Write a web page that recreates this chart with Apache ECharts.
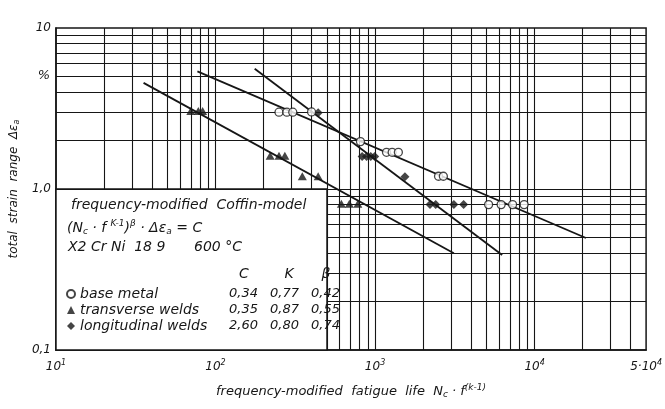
<!DOCTYPE html>
<html><head><meta charset="utf-8">
<script src="https://cdn.jsdelivr.net/npm/echarts@6/dist/echarts.min.js"></script>
<style>html,body{margin:0;padding:0;background:#fff}#c{width:665px;height:409px}</style>
</head><body><div id="c"></div>
<script>
// ---- data ----
const baseX = [250, 280, 305, 400, 810, 1180, 1280, 1400, 2500, 2680, 5150, 6170, 7280, 8600];
const baseY = [3.0, 3.0, 3.0, 3.01, 1.97, 1.69, 1.69, 1.69, 1.20, 1.20, 0.80, 0.80, 0.80, 0.80];
const transX = [70, 78, 83, 220, 250, 272, 350, 440, 615, 690, 780];
const transY = [3.05, 3.05, 3.05, 1.61, 1.61, 1.61, 1.20, 1.20, 0.81, 0.81, 0.81];
const longX = [440, 830, 885, 940, 995, 1540, 2210, 2400, 3120, 3590];
const longY = [2.98, 1.59, 1.59, 1.59, 1.59, 1.19, 0.80, 0.80, 0.80, 0.80];

const baseFitX = [77, 21000],  baseFitY = [5.38, 0.496];
const transFitX = [35.4, 3120], transFitY = [4.56, 0.399];
const longFitX = [176, 6260],  longFitY = [5.59, 0.389];

const xGridLines = [20,30,40,50,60,70,80,90,100,200,300,400,500,600,700,800,900,1000,
  2000,3000,4000,5000,6000,7000,8000,9000,10000,20000,30000,40000];
const yGridLines = [0.2,0.3,0.4,0.5,0.6,0.7,0.8,0.9,1,2,3,4,5,6,7,8,9];
const xRange = [10, 50000];
const yRange = [0.1, 10];

const xTickValues = [10, 100, 1000, 10000, 50000];
const xTickLabels = ['{b|10}{s|1}', '{b|10}{s|2}', '{b|10}{s|3}', '{b|10}{s|4}', '{b|5·10}{s|4}'];
const yTickValues = [0.1, 1, 10];
const yTickLabels = ['0,1', '1,0', '10'];

const legendNames = ['base metal', 'transverse welds', 'longitudinal welds'];
const paramC = ['0,34', '0,35', '2,60'];
const paramK = ['0,77', '0,87', '0,80'];
const paramBeta = ['0,42', '0,55', '0,74'];

// text box region (data coords) covering the lower-left corner of the grid
const boxCorner = [[10, 0.1], [500, 1]];

// ---- chart ----
const FONT = 'DejaVu Sans';
const INK = '#161616';
const zip = (a, b) => a.map((v, i) => [v, b[i]]);
const pick = (vals, labels, v) => {
  let best = 0;
  vals.forEach((t, i) => { if (Math.abs(Math.log10(t) - Math.log10(v)) < Math.abs(Math.log10(vals[best]) - Math.log10(v))) best = i; });
  return Math.abs(Math.log10(vals[best]) - Math.log10(v)) < 0.01 ? labels[best] : '';
};

// grid segments stop at the text box
const gridSegments = []
  .concat(xGridLines.map(v => [
    {coord: [v, v < boxCorner[1][0] ? boxCorner[1][1] : yRange[0]]},
    {coord: [v, yRange[1]]}
  ]))
  .concat(yGridLines.map(v => [
    {coord: [v < boxCorner[1][1] ? boxCorner[1][0] : xRange[0], v]},
    {coord: [xRange[1], v]}
  ]));

const chart = echarts.init(document.getElementById('c'), null, {renderer: 'canvas'});

const option = {
  animation: false,
  backgroundColor: '#fff',
  grid: {left: 54, top: 28, width: 607, height: 322, show: true, borderColor: INK, borderWidth: 1.5, backgroundColor: 'transparent'},
  xAxis: {
    type: 'log', logBase: 10, min: xRange[0], max: xRange[1],
    axisLine: {show: true, lineStyle: {color: INK, width: 1.5}},
    axisTick: {show: false}, splitLine: {show: false}, minorSplitLine: {show: false},
    axisLabel: {
      show: true, margin: 9, showMinLabel: true, showMaxLabel: true,
      formatter: v => pick(xTickValues, xTickLabels, v),
      rich: {
        b: {fontFamily: FONT, fontStyle: 'italic', fontSize: 12, color: INK},
        s: {fontFamily: FONT, fontStyle: 'italic', fontSize: 8, color: INK, padding: [0, 0, 7, 0]}
      }
    },
    name: 'frequency-modified  fatigue  life  N{sub|c} · f{sup|(k-1)}',
    nameLocation: 'middle', nameGap: 33,
    nameTextStyle: {
      fontFamily: FONT, fontStyle: 'italic', fontSize: 13, color: INK,
      rich: {
        sub: {fontFamily: FONT, fontStyle: 'italic', fontSize: 9, color: INK, padding: [6, 0, 0, 0]},
        sup: {fontFamily: FONT, fontStyle: 'italic', fontSize: 9, color: INK, padding: [0, 0, 8, 0]}
      }
    }
  },
  yAxis: {
    type: 'log', logBase: 10, min: yRange[0], max: yRange[1], interval: 1,
    axisLine: {show: true, lineStyle: {color: INK, width: 1.5}},
    axisTick: {show: false}, splitLine: {show: false},
    axisLabel: {
      margin: 5, fontFamily: FONT, fontStyle: 'italic', fontSize: 12, color: INK,
      formatter: v => pick(yTickValues, yTickLabels, v)
    },
    name: 'total  strain  range  Δε{sub|a}',
    nameLocation: 'middle', nameGap: 22,
    nameTextStyle: {
      fontFamily: FONT, fontStyle: 'italic', fontSize: 12, color: INK,
      rich: {sub: {fontFamily: FONT, fontStyle: 'italic', fontSize: 8, color: INK, padding: [6, 0, 0, 0]}}
    }
  },
  legend: {
    data: [
      {name: legendNames[0], icon: 'circle'},
      {name: legendNames[1], icon: 'triangle'},
      {name: legendNames[2], icon: 'diamond'}
    ],
    orient: 'vertical', left: 66, top: 287, padding: 0,
    itemWidth: 8, itemHeight: 8, itemGap: 2, selectedMode: false,
    formatter: name => {
      const i = legendNames.indexOf(name);
      return `{n|${name}}{v|${paramC[i]}}{v|${paramK[i]}}{v|${paramBeta[i]}}`;
    },
    textStyle: {
      fontFamily: FONT, fontStyle: 'italic', fontSize: 14, color: INK,
      rich: {
        n: {fontFamily: FONT, fontStyle: 'italic', fontSize: 14, color: INK, width: 143, lineHeight: 15},
        v: {fontFamily: FONT, fontStyle: 'italic', fontSize: 13, color: INK, width: 41, align: 'center', lineHeight: 15}
      }
    }
  },
  series: [
    {
      name: 'grid', type: 'line', data: [], silent: true, z: 1,
      markLine: {
        silent: true, symbol: ['none', 'none'], label: {show: false}, animation: false,
        lineStyle: {color: INK, width: 1.1, type: 'solid'},
        data: gridSegments
      }
    },
    {
      name: 'box', type: 'line', data: [], silent: true, z: 2,
      markArea: {
        silent: true, label: {show: false},
        itemStyle: {color: '#fff', borderColor: INK, borderWidth: 1.5, opacity: 1},
        data: [[{xAxis: boxCorner[0][0], yAxis: boxCorner[0][1]}, {xAxis: boxCorner[1][0], yAxis: boxCorner[1][1]}]]
      }
    },
    {name: 'base fit', type: 'line', data: zip(baseFitX, baseFitY), symbol: 'none', z: 3, silent: true,
      lineStyle: {color: INK, width: 1.8}},
    {name: 'transverse fit', type: 'line', data: zip(transFitX, transFitY), symbol: 'none', z: 3, silent: true,
      lineStyle: {color: INK, width: 1.8}},
    {name: 'longitudinal fit', type: 'line', data: zip(longFitX, longFitY), symbol: 'none', z: 3, silent: true,
      lineStyle: {color: INK, width: 1.8}},
    {name: legendNames[1], type: 'scatter', data: zip(transX, transY), symbol: 'triangle', symbolSize: [9, 8], z: 4,
      itemStyle: {color: INK}},
    {name: legendNames[2], type: 'scatter', data: zip(longX, longY), symbol: 'diamond', symbolSize: 9, z: 4,
      itemStyle: {color: INK}},
    {name: legendNames[0], type: 'scatter', data: zip(baseX, baseY), symbol: 'circle', symbolSize: 8, z: 5,
      itemStyle: {color: '#fff', borderColor: INK, borderWidth: 1.3}}
  ]
};
chart.setOption(option);

// texts inside the box and the "%" unit, positioned from the chart's scales
const pct = chart.convertToPixel({xAxisIndex: 0, yAxisIndex: 0}, [10, 5]);
const one = chart.convertToPixel({xAxisIndex: 0, yAxisIndex: 0}, [10, 1]);
const tStyle = (text, x, y, extra) => Object.assign({
  text, x, y, fill: INK, fontFamily: FONT, fontStyle: 'italic', fontSize: 14, verticalAlign: 'middle', align: 'left'
}, extra || {});
const sub = {fontFamily: FONT, fontStyle: 'italic', fontSize: 9, fill: INK, padding: [7, 0, 0, 0]};
const sup = {fontFamily: FONT, fontStyle: 'italic', fontSize: 9, fill: INK, padding: [0, 0, 8, 0]};
chart.setOption({
  graphic: [
    {type: 'text', z: 100, style: tStyle('%', pct[0] - 6, pct[1] - 1, {align: 'right', fontSize: 13})},
    {type: 'text', z: 100, style: tStyle('frequency-modified  Coffin-model', one[0] + 15, one[1] + 16)},
    {type: 'text', z: 100, style: tStyle('(N{sub|c} · f {sup|K-1}){sup|β} · Δε{sub|a} = C', one[0] + 11, one[1] + 39, {rich: {sub, sup}})},
    {type: 'text', z: 100, style: tStyle('X2 Cr Ni  18 9', one[0] + 12, one[1] + 58)},
    {type: 'text', z: 100, style: tStyle('600 °C', one[0] + 138, one[1] + 58)},
    {type: 'text', z: 100, style: tStyle('C', one[0] + 188, one[1] + 85, {align: 'center'})},
    {type: 'text', z: 100, style: tStyle('K', one[0] + 233, one[1] + 85, {align: 'center'})},
    {type: 'text', z: 100, style: tStyle('β', one[0] + 270, one[1] + 85, {align: 'center'})}
  ]
});
</script></body></html>
